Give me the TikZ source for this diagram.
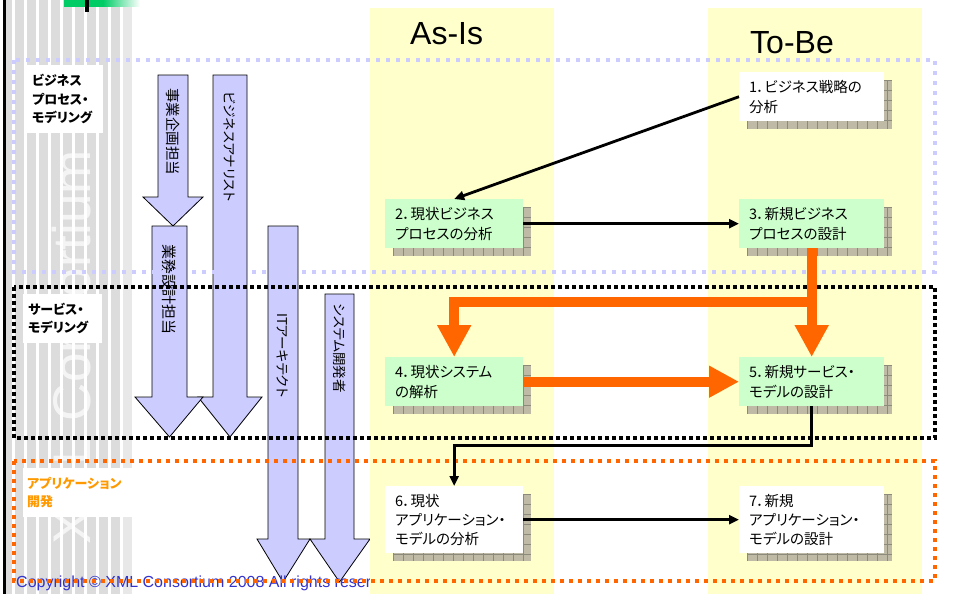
\documentclass[tikz,border=0pt]{standalone}
\usepackage{fontspec}
\setmainfont{Liberation Sans}
\newfontfamily\jp[RawFeature=+palt]{Noto Sans CJK JP}
\usetikzlibrary{arrows.meta,calc}

\definecolor{lav}{RGB}{204,204,255}
\definecolor{yel}{RGB}{255,255,204}
\definecolor{grn}{RGB}{204,255,204}
\definecolor{org}{RGB}{255,102,0}
\definecolor{orgtxt}{RGB}{255,153,0}
\definecolor{stripe}{RGB}{220,220,220}
\definecolor{stripel}{RGB}{232,232,232}
\definecolor{shad}{RGB}{190,186,166}
\definecolor{shadln}{RGB}{140,138,122}
\definecolor{cpy}{RGB}{51,51,204}
\definecolor{gbar}{RGB}{0,204,102}

\newcommand\vflow[7]{%
  \draw[vflowstyle] (#1,#3) -- (#2,#3) -- (#2,#4) -- (#6,#4) -- ({(#1+#2)/2},#7) -- (#5,#4) -- (#1,#4) -- cycle;}

\newcommand\procbox[8]{% name, x, y, w, h, fill, text, line skip
  \pgfmathsetmacro\pbxa{#2+8}\pgfmathsetmacro\pbya{#3+8}%
  \pgfmathsetmacro\pbxb{#2+#4+8}\pgfmathsetmacro\pbyb{#3+#5+8}%
  \pgfmathsetmacro\pbtw{#4-20}%
  \fill[shad] (\pbxa,\pbya) rectangle (\pbxb,\pbyb);
  \begin{scope}
    \clip (\pbxa,\pbya) rectangle (\pbxb,\pbyb);
    \foreach \k in {0,10,...,160} {
      \draw[shadln, line width=0.5] (\pbxa+\k,\pbya) -- (\pbxa+\k,\pbyb);
    }
    \foreach \k in {0,10,...,80} {
      \draw[shadln, line width=0.5] (\pbxa,\pbya+\k) -- (\pbxb,\pbya+\k);
    }
  \end{scope}
  \node[proc, fill=#6, minimum width=#4, minimum height=#5, text width=\pbtw pt,
        font=\jp\fontsize{14.5}{#8}\selectfont, anchor=north west] (#1) at (#2,#3) {#7};}

\begin{document}
\begin{tikzpicture}[x=1pt,y=-1pt,
  vflowstyle/.style={fill=lav, draw=black, line width=0.8},
  vtxt/.style={rotate=-90, inner sep=0, anchor=west},
  lbl/.style={fill=white, anchor=north west, align=left, inner ysep=0, font=\jp\bfseries\fontsize{13}{18.5}\selectfont},
  proc/.style={align=left, inner xsep=10, inner ysep=0, draw=none},
  blk/.style={line width=2.8, -{Triangle[length=10pt,width=9pt]}},
  oarr/.style={draw=org, line width=10, line join=miter, -{Triangle[length=32pt,width=32pt]}},
  dotbox/.style={line width=3.5}
]
\useasboundingbox (0,0) rectangle (955,594);
\fill[white] (0,0) rectangle (955,594);

% stripes
\fill[stripe] (6,0) rectangle (12,594);
\foreach \i in {0,...,8} { \fill[stripe] ({15+12*\i},0) rectangle ({24+12*\i},594); }
\fill[stripel] (123,0) rectangle (132,594);

% watermark
\node[rotate=90, anchor=base west, text=white, opacity=0.7, inner sep=0,
      font=\fontsize{53}{53}\selectfont] (wm) at (90,545) {XML Consortium};

% left black line and green bar
\draw[line width=2.5] (4.5,0) -- (4.5,594);
\fill[gbar] (64,0) rectangle (103,7);
\shade[left color=gbar, right color=white] (103,0) rectangle (140,7);
\fill[black] (85,0) rectangle (89,12);

% role arrows
\vflow{158}{188}{75}{197}{143}{203}{226}
\vflow{213}{247}{75}{397}{198}{262}{437}
\vflow{152}{187}{226}{397}{135}{203}{437}
\vflow{268}{298}{226}{539}{257}{310}{582}
\vflow{325}{354}{294}{539}{310}{370}{582}
\node[vtxt, font=\jp\fontsize{14.5}{14.5}\selectfont] (t1) at (173,88) {事業企画担当};
\node[vtxt, font=\jp\fontsize{13.5}{13.5}\selectfont] (t2) at (230,92) {ビジネスアナリスト};
\node[vtxt, font=\jp\fontsize{15}{15}\selectfont] (t3) at (169.5,244) {業務設計担当};
\node[vtxt, font=\jp\fontsize{13.5}{13.5}\selectfont] (t4) at (283,313) {ITアーキテクト};
\node[vtxt, font=\jp\fontsize{13.5}{13.5}\selectfont] (t5) at (339.5,303) {システム開発者};

% copyright
\node[anchor=base west, text=cpy, inner sep=0, font=\fontsize{16}{16}\selectfont] (cp) at (16,587)
  {Copyright © XML Consortium 2008 All rights reserved.};

% columns
\fill[yel] (370,8) rectangle (554,594);
\fill[yel] (708,8) rectangle (922,594);
\node[anchor=base west, inner sep=0, font=\fontsize{32}{32}\selectfont] (asis) at (410,45) {As-Is};
\node[anchor=base west, inner sep=0, font=\fontsize{32}{32}\selectfont] (tobe) at (750,54) {To-Be};

% swim lanes
\draw[dotbox, lav, dash pattern=on 4 off 6] (14,60) rectangle (935,272);
\draw[dotbox, black, dash pattern=on 4 off 3] (14,287) rectangle (935,438);
\draw[dotbox, org, dash pattern=on 4 off 5] (14,461) rectangle (935,581);

% lane labels
\node[lbl, minimum width=76, minimum height=68, text width=66pt, inner xsep=5] (l1) at (27,65)
  {ビジネス\\プロセス・\\モデリング};
\node[lbl, minimum width=79, minimum height=49, text width=69pt, inner xsep=5] (l2) at (23,294)
  {サービス・\\モデリング};
\node[lbl, text=orgtxt, minimum width=109, minimum height=49, text width=101pt, inner xsep=4] (l3) at (23,468)
  {アプリケーション\\開発};

% process boxes
\procbox{b1}{739}{72}{145}{49}{white}{1．ビジネス戦略の\\分析}{20}
\procbox{b2}{385}{199}{138}{49}{grn}{2．現状ビジネス\\プロセスの分析}{20}
\procbox{b3}{739}{199}{145}{49}{grn}{3．新規ビジネス\\プロセスの設計}{20}
\procbox{b4}{385}{357}{138}{49}{grn}{4．現状システム\\の解析}{20}
\procbox{b5}{739}{357}{145}{49}{grn}{5．新規サービス・\\モデルの設計}{20}
\procbox{b6}{385}{486}{138}{67}{white}{6．現状\\アプリケーション・\\モデルの分析}{19}
\procbox{b7}{739}{486}{145}{67}{white}{7．新規\\アプリケーション・\\モデルの設計}{19}

% connectors
\draw[blk] (b1.west) -- (b2.north);
\draw[blk] (b2.east) -- (b3.west);
\coordinate (oj) at (811.5,302);
\draw[oarr] (b3.south) -- (b5.north);
\draw[oarr] (oj) -| (b4.north);
\draw[draw=org, line width=10, -{Triangle[length=30pt,width=30pt]}] (b4.east) -- (b5.west);
\draw[blk] (b5.south) -- ++(0,39) -| (b6.north);
\draw[blk] (b6.east) -- (b7.west);
\end{tikzpicture}
\end{document}
